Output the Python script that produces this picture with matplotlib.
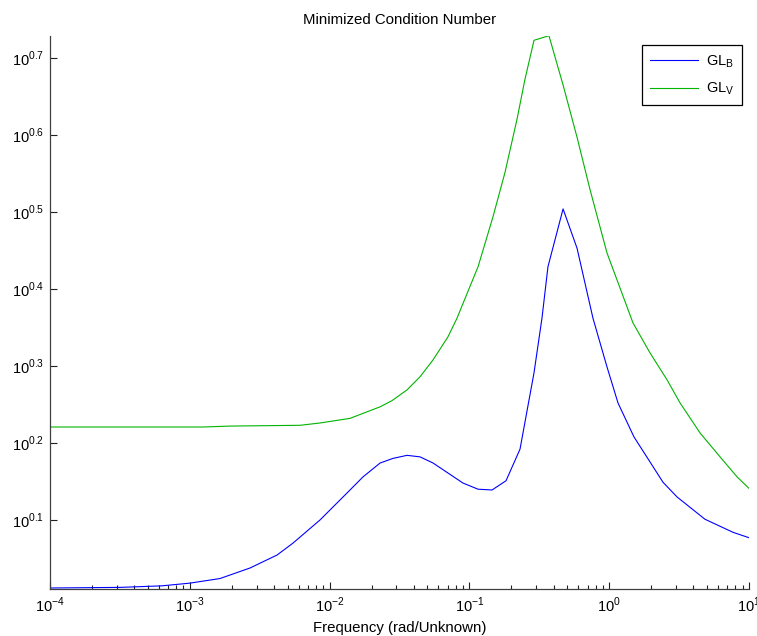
import numpy as np
import matplotlib
matplotlib.use("Agg")
import matplotlib.pyplot as plt
from matplotlib.ticker import FixedLocator, FuncFormatter, NullLocator, LogLocator

plt.rcParams['font.family'] = ['Liberation Sans', 'DejaVu Sans']
plt.rcParams['mathtext.fontset'] = 'custom'
plt.rcParams['mathtext.rm'] = 'Liberation Sans'

# log10(frequency) and log10(condition number)
gl_b_logw = [-4.0, -3.5, -3.2, -3.0, -2.784, -2.569, -2.376, -2.262, -2.069, -1.876,
             -1.761, -1.639, -1.547, -1.446, -1.353, -1.260, -1.046, -0.938, -0.838,
             -0.738, -0.638, -0.538, -0.481, -0.438, -0.330, -0.230, -0.116, -0.016,
             0.063, 0.177, 0.385, 0.485, 0.685, 0.886, 1.0]
gl_b_logk = [0.0117, 0.0125, 0.0145, 0.018, 0.024, 0.0377, 0.0545, 0.070, 0.100, 0.135,
             0.156, 0.174, 0.180, 0.184, 0.182, 0.174, 0.148, 0.140, 0.139,
             0.151, 0.192, 0.291, 0.362, 0.429, 0.504, 0.453, 0.362, 0.299,
             0.252, 0.208, 0.149, 0.130, 0.101, 0.084, 0.077]

gl_v_logw = [-4.0, -2.9, -2.712, -2.212, -2.069, -1.854, -1.639, -1.554, -1.446, -1.353,
             -1.260, -1.153, -1.089, -0.938, -0.831, -0.746, -0.660, -0.603, -0.538,
             -0.431, -0.330, -0.230, -0.137, -0.016, 0.170, 0.292, 0.414, 0.507,
             0.650, 0.793, 0.915, 1.0]
gl_v_logk = [0.2208, 0.2208, 0.222, 0.223, 0.226, 0.232, 0.247, 0.255, 0.269, 0.286,
             0.308, 0.338, 0.362, 0.429, 0.494, 0.551, 0.620, 0.672, 0.723,
             0.729, 0.665, 0.597, 0.529, 0.447, 0.356, 0.317, 0.282, 0.252,
             0.213, 0.182, 0.156, 0.141]

w_b = 10.0 ** np.array(gl_b_logw)
k_b = 10.0 ** np.array(gl_b_logk)
w_v = 10.0 ** np.array(gl_v_logw)
k_v = 10.0 ** np.array(gl_v_logk)

x_ticks = [1e-4, 1e-3, 1e-2, 1e-1, 1e0, 1e1]
y_tick_exps = [0.1, 0.2, 0.3, 0.4, 0.5, 0.6, 0.7]

fig = plt.figure(figsize=(7.57, 6.36), dpi=100)
ax = fig.add_axes([50/757, 1 - 589/636, 699/757, 553/636])

ax.loglog(w_b, k_b, color='#0000ff', lw=0.8, label=r'GL$_\mathrm{B}$')
ax.loglog(w_v, k_v, color='#00b400', lw=0.8, label=r'GL$_\mathrm{V}$')

ax.set_xlim(1e-4, 10)
ax.set_ylim(10 ** 0.0104, 10 ** 0.7286)

ax.xaxis.set_major_locator(FixedLocator(x_ticks))
ax.xaxis.set_minor_locator(LogLocator(base=10, subs=np.arange(2, 10), numticks=20))
ax.xaxis.set_major_formatter(FuncFormatter(lambda v, p: r'$10^{%d}$' % round(np.log10(v))))
ax.yaxis.set_major_locator(FixedLocator([10 ** e for e in y_tick_exps]))
ax.yaxis.set_minor_locator(NullLocator())
ax.yaxis.set_major_formatter(FuncFormatter(lambda v, p: r'$10^{%.1f}$' % np.log10(v)))

for side in ['top', 'right']:
    ax.spines[side].set_visible(False)
for side in ['left', 'bottom']:
    ax.spines[side].set_color('#404040')
    ax.spines[side].set_linewidth(0.9)

ax.tick_params(which='major', direction='in', length=5, width=0.8, labelsize=10.5,
               color='#202020', pad=5)
ax.tick_params(axis='y', pad=4)
ax.tick_params(which='minor', direction='in', length=3, width=0.8, color='#202020')

ax.set_title('Minimized Condition Number', fontsize=10.8, pad=9)
ax.set_xlabel('Frequency (rad/Unknown)', fontsize=10.8, labelpad=4)

leg = ax.legend(loc='upper right', bbox_to_anchor=(742/757, 1 - 45/636),
                bbox_transform=fig.transFigure, fancybox=False, framealpha=1,
                edgecolor='black', fontsize=10.5, handlelength=3.3,
                borderaxespad=0, borderpad=0.55, labelspacing=0.75, handletextpad=0.5)
leg.get_frame().set_linewidth(0.9)

fig.savefig('out.png', dpi=100)
